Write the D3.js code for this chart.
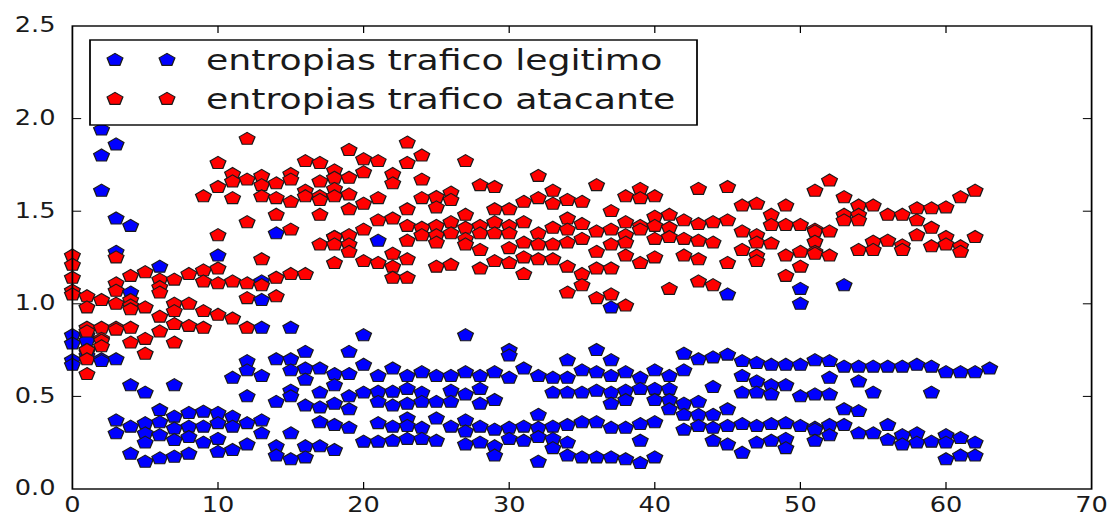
<!DOCTYPE html>
<html>
<head>
<meta charset="utf-8">
<script src="https://cdn.jsdelivr.net/npm/d3@7"></script>
<style>
  html, body { margin: 0; padding: 0; background: #fff; }
  svg { display: block; }
</style>
</head>
<body>
<script>
// entropy scatter, two series, one column of points per x (0..63)

var width = 1111;
var height = 518;
var stretch = 1.25; // the reference picture is stretched sideways

// y values per x index (index = x)
var legitimo = [
  [0.83, 0.785, 0.695, 0.67],
  [0.83, 0.80, 0.75, 0.74, 0.72],
  [1.94, 1.80, 1.61, 0.70, 0.69],
  [1.86, 1.46, 1.28, 0.70, 0.37, 0.30],
  [1.42, 1.06, 0.56, 0.336, 0.19],
  [0.52, 0.355, 0.30, 0.25, 0.147],
  [1.20, 0.426, 0.36, 0.29, 0.165],
  [0.56, 0.39, 0.326, 0.264, 0.174],
  [0.41, 0.336, 0.28, 0.19],
  [0.417, 0.336, 0.25],
  [1.26, 0.41, 0.355, 0.27, 0.20],
  [0.60, 0.39, 0.336, 0.21],
  [0.69, 0.64, 0.50, 0.355, 0.24],
  [1.12, 1.02, 0.87, 0.61, 0.37, 0.30],
  [1.38, 0.70, 0.47, 0.23, 0.18],
  [0.87, 0.70, 0.64, 0.53, 0.50, 0.30, 0.16],
  [0.74, 0.65, 0.59, 0.45, 0.23, 0.17],
  [0.65, 0.52, 0.44, 0.36, 0.23],
  [1.36, 0.62, 0.56, 0.46, 0.345, 0.21],
  [0.74, 0.62, 0.50, 0.43, 0.33],
  [0.83, 0.67, 0.52, 0.255],
  [1.34, 0.61, 0.525, 0.47, 0.355, 0.255],
  [0.65, 0.525, 0.45, 0.336, 0.26],
  [0.61, 0.54, 0.46, 0.38, 0.34, 0.27],
  [0.63, 0.52, 0.47, 0.33, 0.27],
  [0.61, 0.47, 0.38, 0.26],
  [0.61, 0.53, 0.47, 0.336],
  [0.83, 0.63, 0.51, 0.37, 0.31, 0.24],
  [0.61, 0.54, 0.46, 0.336, 0.25],
  [0.63, 0.48, 0.32, 0.23, 0.18],
  [0.75, 0.72, 0.60, 0.33, 0.27],
  [0.65, 0.336, 0.26],
  [0.61, 0.40, 0.33, 0.28, 0.147],
  [0.60, 0.52, 0.336, 0.27, 0.22],
  [0.695, 0.60, 0.52, 0.345, 0.25, 0.18],
  [0.64, 0.52, 0.36, 0.17],
  [0.75, 0.63, 0.53, 0.36, 0.17],
  [0.98, 0.695, 0.61, 0.52, 0.46, 0.33, 0.17],
  [0.63, 0.53, 0.48, 0.33, 0.16],
  [0.60, 0.54, 0.35, 0.26, 0.14],
  [0.64, 0.54, 0.48, 0.36, 0.17],
  [0.61, 0.54, 0.48, 0.43],
  [0.73, 0.64, 0.46, 0.40, 0.32],
  [0.70, 0.47, 0.40, 0.34],
  [0.71, 0.55, 0.40, 0.33, 0.26],
  [1.05, 0.725, 0.43, 0.34, 0.24],
  [0.69, 0.61, 0.52, 0.35, 0.195],
  [0.68, 0.58, 0.52, 0.34, 0.25],
  [0.67, 0.56, 0.51, 0.35, 0.26],
  [0.67, 0.56, 0.355, 0.27, 0.22],
  [1.08, 1.00, 0.67, 0.50, 0.34],
  [0.695, 0.51, 0.33, 0.32, 0.26],
  [0.69, 0.60, 0.51, 0.345, 0.29],
  [1.10, 0.66, 0.43, 0.345],
  [0.66, 0.58, 0.42, 0.30],
  [0.66, 0.52, 0.30],
  [0.66, 0.345, 0.265],
  [0.66, 0.29, 0.24],
  [0.67, 0.30, 0.25],
  [0.66, 0.52, 0.255],
  [0.63, 0.29, 0.25, 0.16],
  [0.63, 0.275, 0.18],
  [0.63, 0.25, 0.18],
  [0.65]
];

var atacante = [
  [1.26, 1.21, 1.14, 1.07, 1.05],
  [1.04, 0.98, 0.87, 0.85, 0.75, 0.70, 0.62],
  [1.02, 0.87, 0.81, 0.80, 0.77],
  [1.25, 1.11, 1.07, 1.00, 0.87, 0.86],
  [1.15, 1.02, 0.99, 0.97, 0.87, 0.79],
  [1.17, 0.98, 0.81, 0.73],
  [1.13, 1.09, 1.06, 0.93, 0.85],
  [1.13, 1.00, 0.96, 0.89, 0.79],
  [1.16, 1.00, 0.88],
  [1.58, 1.18, 1.12, 0.96, 0.87],
  [1.76, 1.63, 1.37, 1.19, 1.11, 0.94],
  [1.70, 1.66, 1.57, 1.12, 0.92],
  [1.89, 1.67, 1.44, 1.11, 1.03, 0.87],
  [1.69, 1.64, 1.58, 1.24, 1.10],
  [1.65, 1.57, 1.48, 1.14, 1.04],
  [1.70, 1.67, 1.55, 1.40, 1.16],
  [1.77, 1.61, 1.58, 1.16],
  [1.76, 1.66, 1.58, 1.56, 1.48, 1.32],
  [1.72, 1.68, 1.62, 1.58, 1.36, 1.32, 1.22],
  [1.83, 1.68, 1.59, 1.51, 1.37, 1.32, 1.28],
  [1.78, 1.71, 1.54, 1.40, 1.23],
  [1.77, 1.57, 1.45, 1.22],
  [1.70, 1.65, 1.46, 1.27, 1.20, 1.14],
  [1.87, 1.76, 1.51, 1.42, 1.34, 1.24, 1.14],
  [1.80, 1.67, 1.57, 1.41, 1.37],
  [1.576, 1.52, 1.42, 1.37, 1.33, 1.20],
  [1.60, 1.56, 1.44, 1.38, 1.21],
  [1.77, 1.48, 1.41, 1.35, 1.32],
  [1.64, 1.42, 1.38, 1.29, 1.19],
  [1.63, 1.51, 1.44, 1.38, 1.23],
  [1.51, 1.42, 1.38, 1.30, 1.22],
  [1.55, 1.44, 1.33, 1.25, 1.16],
  [1.69, 1.57, 1.38, 1.32, 1.24],
  [1.61, 1.54, 1.41, 1.32, 1.24],
  [1.56, 1.46, 1.40, 1.33, 1.20, 1.06],
  [1.55, 1.43, 1.35, 1.16, 1.10],
  [1.64, 1.39, 1.28, 1.19, 1.03],
  [1.50, 1.40, 1.32, 1.19, 1.05],
  [1.58, 1.44, 1.37, 1.33, 1.26, 0.99],
  [1.62, 1.57, 1.42, 1.40, 1.22],
  [1.58, 1.47, 1.42, 1.35, 1.25],
  [1.48, 1.41, 1.36, 1.08],
  [1.45, 1.35, 1.26],
  [1.62, 1.43, 1.34, 1.24, 1.12],
  [1.44, 1.33, 1.10],
  [1.63, 1.45, 1.22],
  [1.53, 1.39, 1.29],
  [1.54, 1.37, 1.33, 1.26, 1.23],
  [1.48, 1.425, 1.325],
  [1.53, 1.425, 1.26, 1.15],
  [1.425, 1.28, 1.20],
  [1.61, 1.40, 1.39, 1.335, 1.28, 1.27],
  [1.665, 1.39, 1.26],
  [1.575, 1.48, 1.45],
  [1.53, 1.48, 1.45, 1.29],
  [1.53, 1.335, 1.29],
  [1.48, 1.34],
  [1.48, 1.315, 1.29],
  [1.515, 1.45, 1.37],
  [1.515, 1.41, 1.31],
  [1.52, 1.36, 1.32],
  [1.575, 1.31, 1.28],
  [1.61, 1.36]
];

var xTicks = [0, 10, 20, 30, 40, 50, 60, 70];
var yTicks = [0.0, 0.5, 1.0, 1.5, 2.0, 2.5];
var seriesNames = ["entropias trafico legitimo", "entropias trafico atacante"];
var seriesColors = ["#0000ff", "#ff0000"];

// drawing space before the sideways stretch
var plotLeft = 72.4 / stretch, plotRight = 1091.6 / stretch;
var plotTop = 26, plotBottom = 489;

var xScale = d3.scaleLinear().domain([0, 70]).range([plotLeft, plotRight]);
var yScale = d3.scaleLinear().domain([0, 2.5]).range([plotBottom, plotTop]);

// matplotlib-like pentagon marker
var pentagon = {
  draw: function(context, size) {
    var r = Math.sqrt(size / 2.378);
    for (var i = 0; i < 5; i++) {
      var a = -Math.PI / 2 + i * 2 * Math.PI / 5;
      if (i === 0) context.moveTo(r * Math.cos(a), r * Math.sin(a));
      else context.lineTo(r * Math.cos(a), r * Math.sin(a));
    }
    context.closePath();
  }
};
var marker = d3.symbol().type(pentagon).size(105);

var svg = d3.select("body")
            .append("svg")
            .attr("width", width)
            .attr("height", height);

svg.append("rect")
   .attr("width", width)
   .attr("height", height)
   .attr("fill", "#fff");

var g = svg.append("g")
           .attr("transform", "scale(" + stretch + ",1)");

// points, column by column: blue then red at each x
var points = [];
for (var x = 0; x < 64; x++) {
  (legitimo[x] || []).forEach(function(v){ points.push({x: x, y: v, s: 0}); });
  (atacante[x] || []).forEach(function(v){ points.push({x: x, y: v, s: 1}); });
}

g.append("g")
 .selectAll("path")
 .data(points)
 .enter()
 .append("path")
 .attr("d", marker)
 .attr("transform", function(d){
   return "translate(" + xScale(d.x) + "," + yScale(d.y) + ")";
 })
 .attr("fill", function(d){ return seriesColors[d.s]; })
 .attr("stroke", "#1a1a1a")
 .attr("stroke-width", 1.05);

// ticks inside on all four sides
var tickLen = 7;
var ticksG = g.append("g").attr("stroke", "#000").attr("stroke-width", 1);
xTicks.slice(1, -1).forEach(function(t){
  ticksG.append("line").attr("x1", xScale(t)).attr("x2", xScale(t))
        .attr("y1", plotBottom).attr("y2", plotBottom - tickLen);
  ticksG.append("line").attr("x1", xScale(t)).attr("x2", xScale(t))
        .attr("y1", plotTop).attr("y2", plotTop + tickLen);
});
yTicks.slice(1, -1).forEach(function(t){
  ticksG.append("line").attr("y1", yScale(t)).attr("y2", yScale(t))
        .attr("x1", plotLeft).attr("x2", plotLeft + tickLen);
  ticksG.append("line").attr("y1", yScale(t)).attr("y2", yScale(t))
        .attr("x1", plotRight).attr("x2", plotRight - tickLen);
});

// frame
g.append("rect")
 .attr("x", plotLeft)
 .attr("y", plotTop)
 .attr("width", plotRight - plotLeft)
 .attr("height", plotBottom - plotTop)
 .attr("fill", "none")
 .attr("stroke", "#000")
 .attr("stroke-width", 1.4);

// tick labels
g.selectAll("text.xt")
 .data(xTicks)
 .enter()
 .append("text")
 .attr("class", "xt")
 .attr("x", function(d){ return xScale(d); })
 .attr("y", 512.5)
 .attr("text-anchor", "middle")
 .attr("font-family", "DejaVu Sans")
 .attr("font-size", "20.5px")
 .attr("fill", "#1a1a1a")
 .text(function(d){ return d; });

g.selectAll("text.yt")
 .data(yTicks)
 .enter()
 .append("text")
 .attr("class", "yt")
 .attr("x", plotLeft - 13.5)
 .attr("y", function(d){ return yScale(d) + 6.5; })
 .attr("text-anchor", "end")
 .attr("font-family", "DejaVu Sans")
 .attr("font-size", "20.5px")
 .attr("fill", "#1a1a1a")
 .text(function(d){ return d3.format(".1f")(d); });

// legend
var lg = g.append("g");
lg.append("rect")
  .attr("x", 90 / stretch)
  .attr("y", 40)
  .attr("width", (697 - 90) / stretch)
  .attr("height", 85)
  .attr("fill", "#fff")
  .attr("stroke", "#000")
  .attr("stroke-width", 1.4);

seriesNames.forEach(function(name, i){
  var cy = 60 + i * 39;
  [115, 167].forEach(function(px){
    lg.append("path")
      .attr("d", marker)
      .attr("transform", "translate(" + (px / stretch) + "," + cy + ")")
      .attr("fill", seriesColors[i])
      .attr("stroke", "#1a1a1a")
      .attr("stroke-width", 1.05);
  });
  lg.append("text")
    .attr("x", 206 / stretch)
    .attr("y", cy + 10)
    .attr("font-family", "DejaVu Sans")
    .attr("font-size", "29px")
    .attr("fill", "#1a1a1a")
    .text(name);
});
</script>
</body>
</html>
